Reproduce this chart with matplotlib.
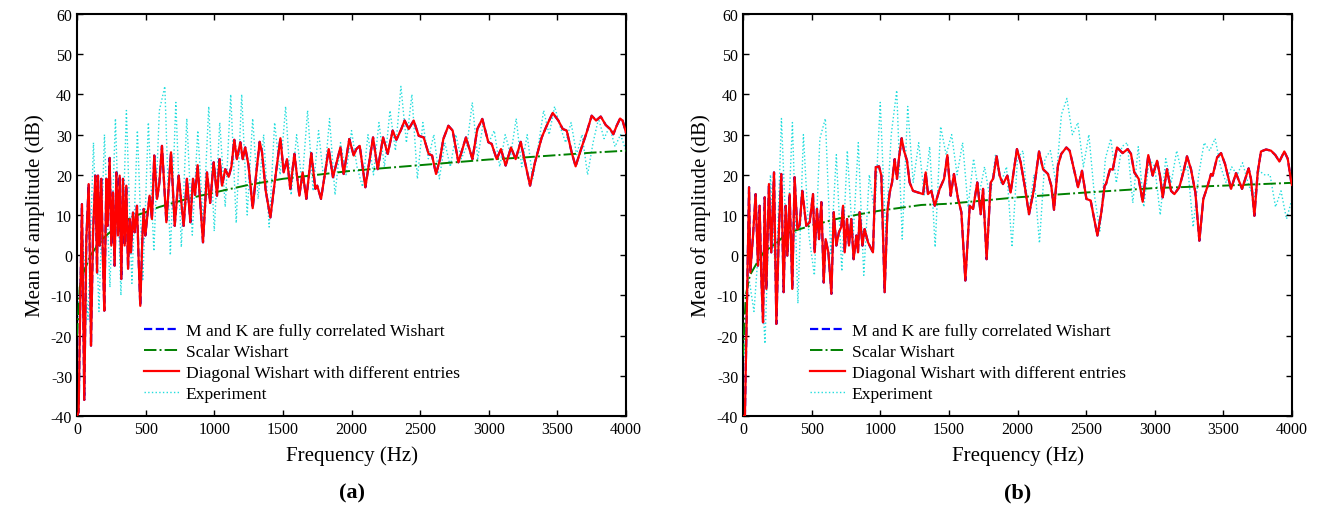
import matplotlib
matplotlib.use('Agg')
import matplotlib.pyplot as plt
import numpy as np

plt.rcParams['font.family'] = ['Liberation Serif', 'DejaVu Serif']
plt.rcParams['axes.unicode_minus'] = False

# ---- data (a) ----
red_a_f = [0, 12, 24, 36, 53, 68, 85, 97, 102, 117, 134, 146, 153, 165, 177, 189, 199, 214, 223, 238,
           250, 262, 274, 287, 299, 311, 323, 335, 347, 359, 372, 384, 393, 408, 420, 437, 449, 461, 476, 486,
           498, 515, 529, 546, 563, 583, 600, 619, 651, 685, 712, 741, 777, 801, 826, 845, 860, 879, 918, 947,
           970, 996, 1020, 1039, 1057, 1080, 1105, 1125, 1146, 1165, 1190, 1208, 1226, 1250, 1280, 1305, 1331, 1348, 1375, 1409,
           1440, 1482, 1506, 1530, 1554, 1584, 1620, 1644, 1671, 1707, 1737, 1750, 1778, 1834, 1865, 1919, 1943, 1984, 2016, 2035,
           2060, 2101, 2157, 2191, 2230, 2264, 2300, 2327, 2363, 2387, 2417, 2453, 2490, 2526, 2562, 2587, 2616, 2645, 2669, 2706,
           2737, 2779, 2834, 2881, 2917, 2953, 2997, 3021, 3058, 3089, 3123, 3162, 3196, 3233, 3265, 3301, 3337, 3386, 3422, 3466,
           3507, 3539, 3568, 3604, 3633, 3665, 3714, 3750, 3782, 3816, 3852, 3884, 3908, 3932, 3957, 3975, 4000]
red_a_v = [-40, -39, -11, 12.7, -36, 4, 17.7, -7.6, -22.5, 5.7, 19.8, -4.3, 19.8, 2.4, 19, -1, -13.8, 19, 7.3, 24.2,
           2.4, 15.6, -2.6, 20.6, 4.9, 19.8, -5.9, 19, 2.4, 17.3, -3.4, 9, 0.7, 10.6, 5.7, 12.3, -1, -12.6, 4, 11.5,
           4.9, 10.6, 14.8, 9, 24.8, 14, 18, 27.2, 8.2, 25.6, 7.3, 19.8, 7.3, 19, 8.2, 19, 15, 22.4, 3.2, 20.6,
           13, 23.1, 14.8, 23.9, 17.3, 21.4, 19.5, 22, 28.7, 23.9, 28.1, 23.9, 26.8, 22.3, 11.7, 20, 28.2, 25.6, 16, 9.4,
           18, 29.1, 20.6, 23.9, 16.5, 25.2, 14.8, 20.6, 14, 25.4, 16.5, 17.3, 14, 26.4, 19.4, 26.8, 20.2, 28.9, 24.8, 26.4,
           27.2, 16.9, 29.3, 21.4, 29.3, 25.2, 31, 28.7, 31.4, 33.5, 31.4, 33.5, 29.7, 29.3, 25.2, 24.8, 20.2, 23.9, 28.9, 32.2,
           31, 23.1, 29.3, 23.9, 31.4, 33.9, 28.1, 27.7, 23.9, 26.4, 22.3, 26.8, 23.9, 28.2, 23, 17.3, 23.1, 29.3, 32.2, 35.4,
           33.5, 31.4, 31, 25.6, 22.1, 25.6, 30.6, 34.7, 33.5, 34.5, 32.4, 31.4, 30.1, 32.2, 34, 33.5, 30.5]

green_a_f = [0, 20, 50, 100, 150, 200, 300, 400, 500, 600, 700, 800, 1000, 1250, 1500, 1750, 2000, 2250,
             2500, 2750, 3000, 3250, 3500, 3750, 4000]
green_a_v = [-20, -8, -4, 0, 2.5, 4.5, 7.5, 9.5, 10.7, 12, 13, 14, 15.6, 17.5, 19, 20, 21, 21.7,
             22.4, 23.1, 23.8, 24.3, 24.9, 25.5, 26]

# experiment, sampled every 40 Hz
exp_a = [-20, 5, -16, 28, -14, 30, -8, 34, -10, 36, -7, 31, -6, 33, 1, 36, 42, 0, 38, 2,
         34, 5, 31, 8, 37, 6, 33, 12, 40, 8, 40, 10, 34, 14, 30, 7, 33, 20, 37, 15,
         30, 18, 36, 16, 31, 18, 34, 15, 28, 20, 31, 22, 17, 30, 20, 33, 22, 36, 26, 42,
         28, 40, 19, 33, 24, 30, 19, 28, 22, 30, 24, 27, 38, 24, 33, 28, 31, 22, 30, 25,
         34, 22, 30, 19, 27, 36, 30, 37, 32, 28, 33, 25, 30, 20, 28, 34, 29, 32, 27, 30, 26]

# ---- data (b) ----
red_b_f = [0, 14, 30, 44, 53, 73, 92, 109, 121, 134, 146, 158, 170, 189, 206, 226, 243, 262, 279, 296,
           311, 323, 340, 359, 376, 396, 413, 432, 461, 486, 510, 522, 539, 554, 571, 588, 602, 622, 644, 661,
           680, 699, 716, 729, 741, 758, 772, 789, 806, 826, 838, 850, 870, 886, 911, 947, 967, 991, 1008, 1032,
           1052, 1069, 1086, 1105, 1122, 1137, 1156, 1173, 1195, 1214, 1239, 1275, 1312, 1331, 1348, 1372, 1397, 1433, 1465, 1489,
           1513, 1537, 1567, 1591, 1620, 1652, 1676, 1707, 1732, 1749, 1775, 1805, 1822, 1848, 1870, 1894, 1926, 1950, 1975, 1996,
           2023, 2052, 2084, 2120, 2157, 2186, 2222, 2246, 2266, 2295, 2319, 2356, 2380, 2397, 2441, 2470, 2502, 2533, 2582, 2611,
           2635, 2645, 2674, 2694, 2725, 2766, 2803, 2827, 2851, 2883, 2912, 2953, 2985, 3017, 3038, 3058, 3089, 3119, 3143, 3179,
           3208, 3235, 3264, 3296, 3325, 3354, 3386, 3410, 3422, 3454, 3483, 3512, 3556, 3592, 3636, 3684, 3701, 3726, 3750, 3774,
           3811, 3847, 3879, 3908, 3944, 3969, 3995, 4000]
red_b_v = [-40, -40, -10, 16.9, -4.3, 4.9, 15.2, -2.6, 12.3, -5.9, -16.7, 14.4, -8.4, 17.7, 0.7, 20.6, -17.1, 6.5, 20.2, -9.2,
           12.3, -0.1, 15.2, -8.4, 19.4, 6.5, 7.5, 16, 7.3, 8.2, 15.2, 0.7, 11.5, 4, 13.2, -6.8, 4, 0.7, -9.6, 10.7,
           2.4, 5.7, 7, 12.3, 0.7, 9, 2.4, 9, -1, 4.9, 0.7, 10.7, 2.4, 6.5, 3.2, 0.7, 21.9, 22.1, 19.8, -9.2,
           10.7, 15.6, 18.1, 23.9, 19, 24.3, 29.1, 26, 23.5, 18.1, 16, 15.6, 15.2, 20.6, 15.2, 16, 12.3, 16.5, 19, 24.9,
           14.8, 20.2, 14, 10.7, -6.3, 12.3, 11.5, 18.1, 10.2, 16.5, -1, 18.1, 19, 24.6, 19.8, 17.7, 19.8, 15.6, 21.4, 26.4,
           23.1, 17.3, 10.2, 16.5, 25.8, 21.4, 20.2, 17.3, 11.3, 22.3, 25.2, 26.8, 26, 23.5, 16.9, 21, 14, 13.6, 4.9, 10.7,
           17.3, 17.7, 21.4, 21.3, 26.8, 25.4, 26.4, 25.2, 20.6, 19, 13.3, 24.9, 19.8, 23.5, 19.8, 14.4, 21.4, 16, 15.2, 16.9,
           20.6, 24.6, 21.4, 15.6, 3.6, 14, 17.3, 20.2, 19.8, 24.3, 25.4, 22.7, 16.5, 20.4, 16.5, 21.6, 19, 9.8, 20.6, 25.8,
           26.3, 26, 24.9, 23.3, 25.8, 24, 18.1, 17.5]

green_b_f = [0, 20, 50, 100, 150, 250, 320, 490, 680, 850, 1000, 1300, 1500, 2000, 2500, 3000, 3500, 4000]
green_b_v = [-25, -10, -5, -2, 0.7, 3.2, 5.5, 7.3, 9, 10.2, 11.1, 12.5, 12.8, 14.4, 15.6, 16.7, 17.3, 18]

exp_b = [-30, -5, -14, 5, -22, 20, -8, 34, 0, 33, -12, 30, 5, -5, 29, 34, 0, 25, -4, 26,
         3, 28, -5, 20, 10, 38, 5, 30, 41, 4, 37, 18, 28, 15, 27, 2, 32, 25, 30, 20,
         28, 12, 24, 15, 22, 14, 25, 18, 22, 2, 24, 26, 10, 20, 3, 24, 26, 18, 35, 39,
         30, 33, 22, 30, 15, 6, 24, 29, 18, 27, 28, 13, 27, 12, 24, 22, 10, 24, 18, 26,
         20, 22, 7, 20, 28, 26, 29, 22, 18, 22, 20, 23, 18, 14, 21, 20, 20, 12, 16, 9, 14]

labels = ['M and K are fully correlated Wishart', 'Scalar Wishart',
          'Diagonal Wishart with different entries', 'Experiment']


def draw(ax, red_f, red_v, green_f, green_v, exp_v, tag):
    exp_f = np.linspace(0, 4000, len(exp_v))
    l1, = ax.plot(red_f, red_v, color='blue', linestyle='--', linewidth=1.6, zorder=2)
    l2, = ax.plot(green_f, green_v, color='green', linestyle='-.', linewidth=1.4, zorder=3)
    l4, = ax.plot(exp_f, exp_v, color='#22dddd', linestyle=':', linewidth=1.0, zorder=1)
    l3, = ax.plot(red_f, red_v, color='red', linestyle='-', linewidth=1.6, zorder=4)
    ax.set_xlim(0, 4000)
    ax.set_ylim(-40, 60)
    ax.set_xticks(range(0, 4001, 500))
    ax.set_yticks(range(-40, 61, 10))
    ax.tick_params(direction='in', top=True, right=True, labelsize=11.5, length=4, width=1)
    for s in ax.spines.values():
        s.set_linewidth(1.5)
    ax.set_xlabel('Frequency (Hz)', fontsize=15, labelpad=6)
    ax.set_ylabel('Mean of amplitude (dB)', fontsize=15, labelpad=4)
    ax.legend([l1, l2, l3, l4], labels, loc='lower left', bbox_to_anchor=(0.093, -0.005),
              frameon=False, fontsize=12.6, handlelength=2.0, labelspacing=0.27, handletextpad=0.4)
    pos = ax.get_position()
    fig.text((pos.x0 + pos.x1) / 2, 0.033, tag, ha='center', va='center',
             fontsize=16, fontweight='bold')


fig = plt.figure(figsize=(13.18, 5.10), dpi=100)
ax1 = fig.add_axes([77 / 1318, 93 / 510, 549 / 1318, 402 / 510])
ax2 = fig.add_axes([743 / 1318, 93 / 510, 549 / 1318, 402 / 510])
draw(ax1, red_a_f, red_a_v, green_a_f, green_a_v, exp_a, '(a)')
draw(ax2, red_b_f, red_b_v, green_b_f, green_b_v, exp_b, '(b)')

fig.savefig('out.png', dpi=100)
